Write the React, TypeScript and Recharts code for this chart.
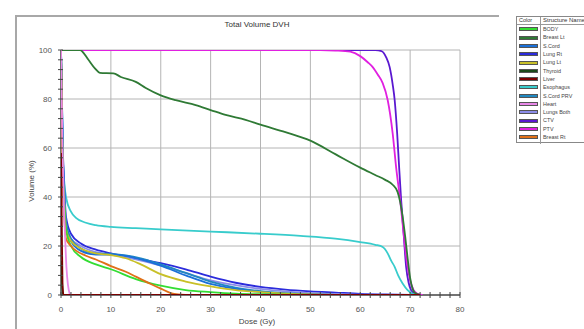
import React from "react";
import { LineChart, Line, XAxis, YAxis, ReferenceLine } from "recharts";

// Dose (Gy) / Volume (%) points
const ctv: [number, number][] = [[0,100],[63,100],[64.3,99.5],[65.2,97],[65.9,93],[66.5,86],[66.9,79.6],[67.4,66],[67.8,52],[68.2,38.8],[68.7,25],[69.2,11.5],[69.7,5],[70.2,2],[71,0.5],[72,0]];
const ptv: [number, number][] = [[0,100],[52,100],[55,99.8],[58,99.3],[60,97.5],[61.5,95],[62.5,93],[63.5,90],[64.5,86.5],[65.5,79.6],[66.5,66],[67.2,52],[68,38.8],[68.7,25],[69.3,14],[70,6],[70.7,2],[71.5,0.5],[72.5,0]];
const breastLt: [number, number][] = [[0,100],[3.8,100],[5.5,96],[6.8,92.5],[7.8,90.7],[10.5,90.5],[12,89],[15,87],[17,84.5],[20,81.5],[23,79.5],[27,77.5],[30,75.5],[33,73.5],[37,71.5],[40,69.5],[45,66.5],[50,63],[55,57.5],[60,52],[63,49],[65,47],[66.5,45],[67.5,42],[68,38],[68.5,32],[69,24],[69.5,15],[70,7],[70.5,2.5],[71,0.8],[72,0]];
const esophagus: [number, number][] = [[0,100],[0.3,60],[0.7,45],[1,40],[2,34],[3,31.5],[5,29.5],[7,28.5],[10,27.8],[15,27.3],[20,26.8],[30,25.9],[40,25],[48,24.1],[55,23],[60,21.6],[63,20.5],[64.5,19.6],[65.5,17],[66.2,14],[66.9,11.5],[67.6,8],[68.5,4.7],[69.5,2],[70.5,0.5],[71,0]];
const lungRt: [number, number][] = [[0,100],[0.3,65],[0.7,42],[1,32],[2,25],[4,21],[7,18.5],[10,17],[15,15],[20,13],[25,10.5],[30,7.5],[35,5],[40,3.3],[45,2.2],[50,1.5],[55,1],[60,0.5],[65,0.2],[70,0]];
const lungsBoth: [number, number][] = [[0,100],[0.3,60],[0.7,38],[1,29],[2,23],[4,20],[7,17.5],[10,16.5],[15,14.5],[20,12],[25,9],[30,6],[35,4],[40,2.5],[45,1.5],[50,0.8],[55,0.4],[60,0.1],[65,0]];
const sCordPrv: [number, number][] = [[0,100],[0.5,47],[1,30],[2,23],[4,19],[7,17],[10,16.8],[13,16.2],[16,15],[20,12.5],[25,9],[30,5.5],[35,3],[40,1.6],[45,0.8],[50,0.3],[55,0]];
const sCord: [number, number][] = [[0,100],[0.5,45],[1,28],[2,22],[4,18],[7,16.5],[10,16.5],[13,16],[16,14.5],[20,12],[25,8],[30,4.5],[35,2.5],[40,1.2],[45,0.5],[50,0.1],[55,0]];
const lungLt: [number, number][] = [[0,100],[0.3,55],[0.7,35],[1,27],[2,22],[4,19],[7,17],[10,16.3],[13,15],[16,12.5],[20,8.5],[25,5.5],[30,3.5],[35,2],[40,1.2],[45,0.6],[50,0.2],[55,0]];
const body: [number, number][] = [[0,100],[0.3,55],[0.7,35],[1,27],[2,20],[4,15.5],[7,12.5],[10,10.5],[15,6.5],[20,3.8],[25,2],[30,1.2],[35,0.6],[40,0.3],[50,0.05],[60,0]];
const breastRt: [number, number][] = [[0,100],[0.3,50],[0.7,30],[1,23],[2,20],[5,16],[7,14.5],[10,11.8],[13,9.5],[15,7.5],[18,4.5],[20,2.6],[22,0.8],[23.5,0.2],[25,0]];
const heart: [number, number][] = [[0,100],[0.3,60],[0.6,35],[0.8,25],[1.1,11],[1.4,4],[1.8,0]];
const thyroid: [number, number][] = [[0,14],[0.2,5],[0.4,0],[15,0]];
const liver: [number, number][] = [[0,58],[0.15,30],[0.3,5],[0.5,0],[72,0]];

const xMajor = [0, 10, 20, 30, 40, 50, 60, 70, 80];
const yMajor = [0, 20, 40, 60, 80, 100];
const xTicks = Array.from({ length: 41 }, (_, i) => i * 2);
const yTicks = Array.from({ length: 26 }, (_, i) => i * 4);

const structures = [
  { name: "BODY", color: "#33dd33", pts: body },
  { name: "Breast Lt", color: "#2f7a35", pts: breastLt },
  { name: "S.Cord", color: "#1a70d8", pts: sCord },
  { name: "Lung Rt", color: "#2c2cdc", pts: lungRt },
  { name: "Lung Lt", color: "#c8c028", pts: lungLt },
  { name: "Thyroid", color: "#1a4a1a", pts: thyroid },
  { name: "Liver", color: "#7a0000", pts: liver },
  { name: "Esophagus", color: "#38cccc", pts: esophagus },
  { name: "S.Cord PRV", color: "#2088c0", pts: sCordPrv },
  { name: "Heart", color: "#e888e8", pts: heart },
  { name: "Lungs Both", color: "#8c8ce8", pts: lungsBoth },
  { name: "CTV", color: "#5a18d0", pts: ctv },
  { name: "PTV", color: "#e020e0", pts: ptv },
  { name: "Breast Rt", color: "#e07018", pts: breastRt },
];

const drawOrder = ["CTV", "PTV", "Breast Lt", "Esophagus", "Lung Rt", "Lungs Both", "S.Cord PRV", "S.Cord", "Lung Lt", "BODY", "Breast Rt", "Heart", "Thyroid", "Liver"];

const font = "'Liberation Sans', Arial, sans-serif";

const XTick = (props: any) => {
  const { x, y, payload } = props;
  const v = payload.value;
  return (
    <g>
      <line x1={x} x2={x} y1={y - 3} y2={y + 3} stroke="#444" strokeWidth={1} />
      {v % 10 === 0 && (
        <text x={x} y={y + 17} textAnchor="middle" fontSize={8} fill="#555" fontFamily={font}>
          {v}
        </text>
      )}
    </g>
  );
};

const YTick = (props: any) => {
  const { x, y, payload } = props;
  const v = payload.value;
  return (
    <g>
      <line x1={x - 3} x2={x + 2} y1={y} y2={y} stroke="#444" strokeWidth={1} />
      {v % 20 === 0 && (
        <text x={x - 9} y={y + 3} textAnchor="end" fontSize={8} fill="#555" fontFamily={font}>
          {v}
        </text>
      )}
    </g>
  );
};

export default function App() {
  const ordered = drawOrder.map((n) => structures.find((s) => s.name === n)!);
  return (
    <div style={{ position: "absolute", left: 0, top: 0, width: 584, height: 329, background: "#fff", overflow: "hidden", fontFamily: font }}>
      {/* frame */}
      <div style={{ position: "absolute", left: 15, top: 15, width: 482, height: 320, borderTop: "2px solid #a8a8a8", borderLeft: "2px solid #a8a8a8" }} />
      <div style={{ position: "absolute", left: 0, top: 20, width: 514, textAlign: "center", fontSize: 8, color: "#333" }}>Total Volume DVH</div>
      <div style={{ position: "absolute", left: 0, top: 317, width: 514, textAlign: "center", fontSize: 8, color: "#444" }}>Dose (Gy)</div>
      <div style={{ position: "absolute", left: 31, top: 181, transform: "translate(-50%, -50%) rotate(-90deg)", fontSize: 8, color: "#444", whiteSpace: "nowrap" }}>Volume (%)</div>
      <div style={{ position: "absolute", left: 0, top: 0 }}>
        <LineChart width={584} height={329} margin={{ top: 50, right: 124, bottom: 14, left: 21 }}>
          <XAxis dataKey="d" type="number" domain={[0, 80]} ticks={xTicks} interval={0} tick={<XTick />} tickLine={false} tickSize={0} tickMargin={0} height={20} axisLine={false} allowDataOverflow />
          <YAxis type="number" domain={[0, 100]} ticks={yTicks} interval={0} tick={<YTick />} tickLine={false} tickSize={0} tickMargin={0} width={40} axisLine={false} allowDataOverflow />
          {xMajor.map((v) => (
            <ReferenceLine key={"gx" + v} x={v} stroke={v === 0 ? "#444" : "#b4b4b4"} strokeWidth={v === 0 ? 1.5 : 1} />
          ))}
          {yMajor.map((v) => (
            <ReferenceLine key={"gy" + v} y={v} stroke={v === 0 ? "#444" : "#b4b4b4"} strokeWidth={v === 0 ? 1.5 : 1} />
          ))}
          {ordered.map((s) => (
            <Line
              key={s.name}
              data={s.pts.map(([d, v]) => ({ d, v }))}
              dataKey="v"
              type="monotone"
              stroke={s.color}
              strokeWidth={1.8}
              dot={false}
              isAnimationActive={false}
            />
          ))}
        </LineChart>
      </div>
      {/* legend table */}
      <div style={{ position: "absolute", left: 516, top: 16, width: 80, height: 127, border: "1px solid #888", boxSizing: "border-box" }}>
        <div style={{ position: "absolute", left: 23, top: 0, width: 1, height: 127, background: "#999" }} />
        <div style={{ position: "absolute", left: 0, top: 7, width: 80, height: 1, background: "#999" }} />
        <div style={{ position: "absolute", left: 2, top: 0, fontSize: 5.5, color: "#333", lineHeight: "7px" }}>Color</div>
        <div style={{ position: "absolute", left: 26, top: 0, fontSize: 6, color: "#333", lineHeight: "7px", whiteSpace: "nowrap" }}>Structure Name</div>
        {structures.map((s, i) => (
          <div key={s.name} style={{ position: "absolute", left: 0, top: 8.1 + i * 8.3, height: 8.3, width: 80 }}>
            <div style={{ position: "absolute", left: 2, top: 2.3, width: 19, height: 4, background: s.color, border: "0.5px solid #555", boxSizing: "border-box" }} />
            <div style={{ position: "absolute", left: 26, top: 0, fontSize: 5.4, color: "#444", lineHeight: "8.3px", whiteSpace: "nowrap" }}>{s.name}</div>
          </div>
        ))}
      </div>
    </div>
  );
}
